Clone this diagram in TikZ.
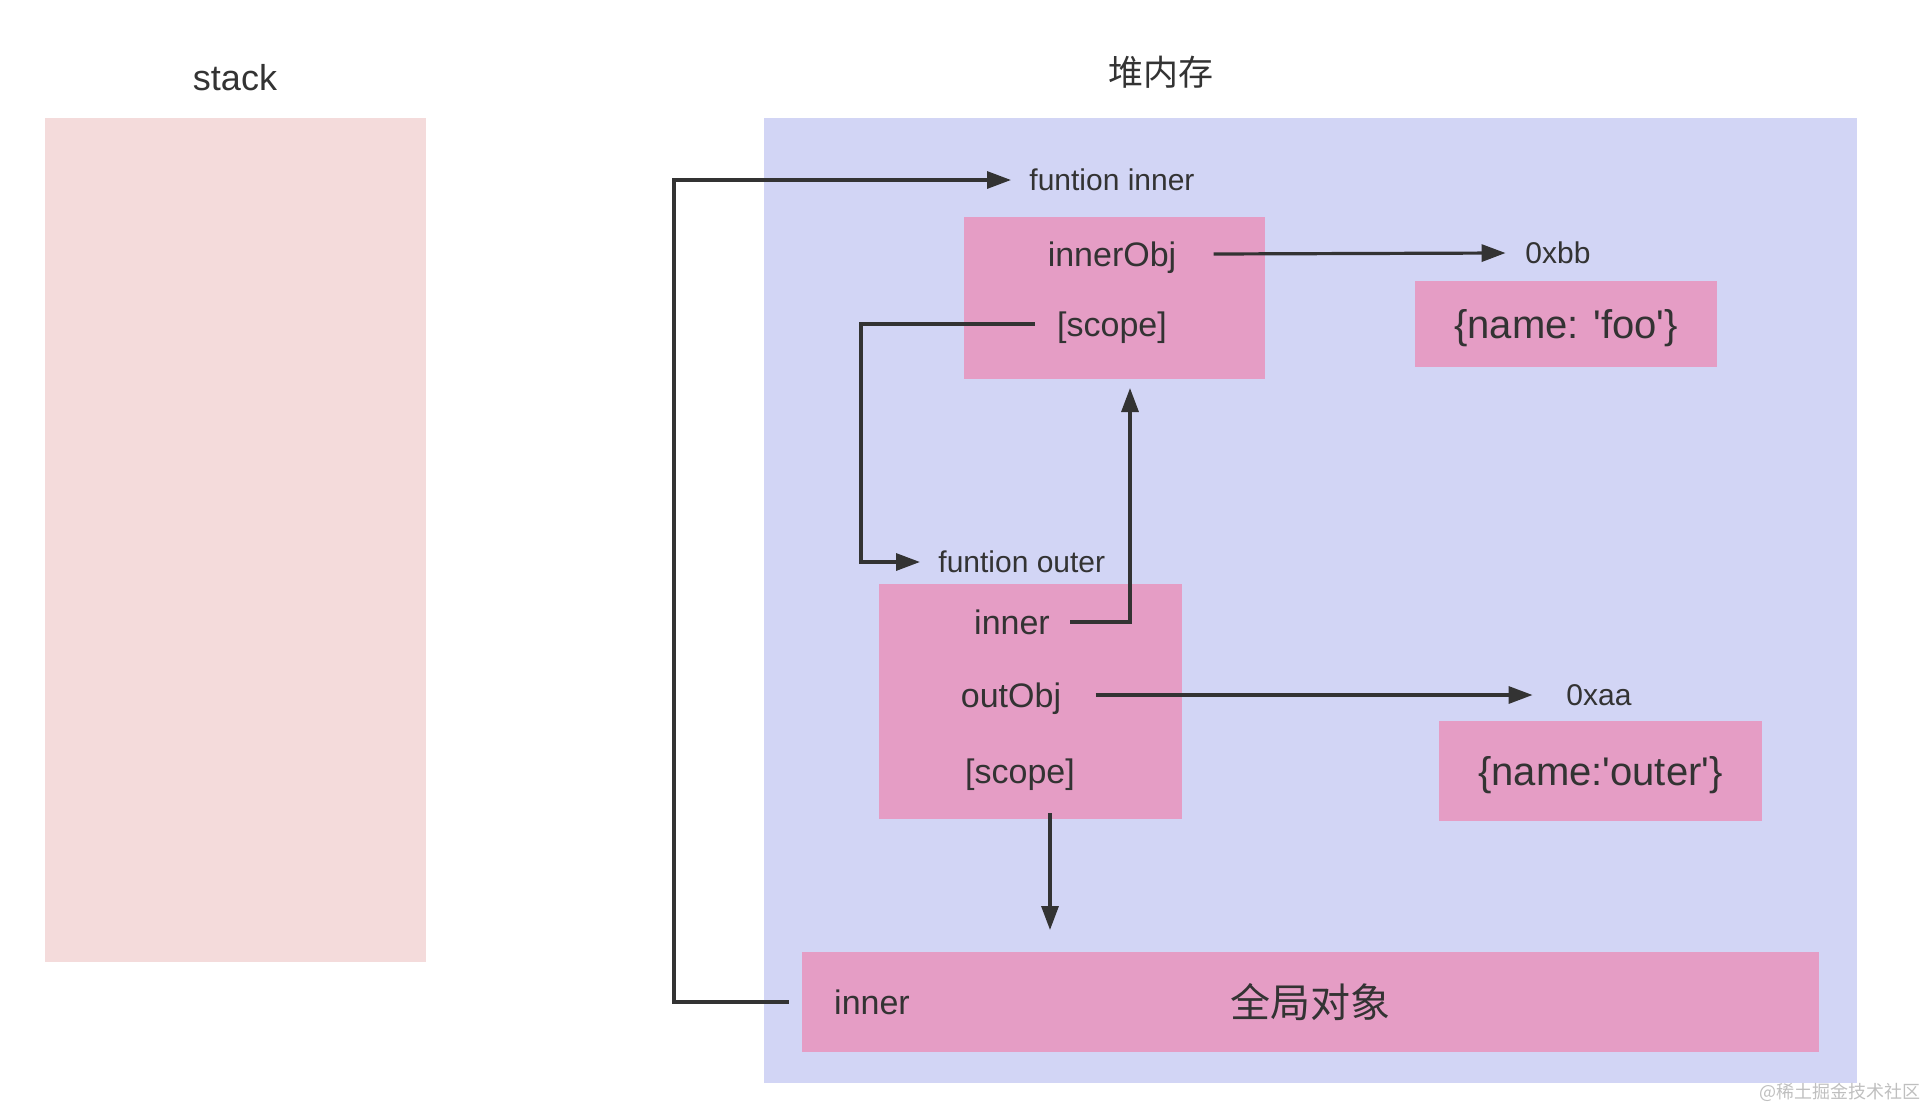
\documentclass[tikz,border=0pt]{standalone}
\usepackage{fontspec}
\setmainfont{Liberation Sans}
\newfontfamily\cjk{Noto Sans CJK SC}
\usetikzlibrary{arrows.meta,positioning}
\definecolor{stackpink}{HTML}{F4DBDB}
\definecolor{heapblue}{HTML}{D2D5F5}
\definecolor{boxpink}{HTML}{E59DC5}
\definecolor{ink}{HTML}{333333}

\begin{document}
\begin{tikzpicture}
[x = 0.5pt, y = -0.5pt, >={Triangle[length=12pt,width=8.5pt]},
 area/.style = {inner sep = 0pt, outer sep = 0pt},
 membox/.style = {area, fill = boxpink, text = ink},
 lbl/.style = {inner sep = 0pt, text depth = 0pt, text = ink, font = \fontsize{17}{20}\selectfont},
 addr/.style = {lbl, font = \fontsize{15}{18}\selectfont},
 link/.style = {draw = ink, line width = 1.6pt, ->}]
\useasboundingbox (0,0) rectangle (1926,1108);
\node (stack) at (235.5,540)[area, fill = stackpink, minimum width = 190.5pt, minimum height = 422pt] {};
\node (heap) at (1310.5,600.5)[area, fill = heapblue, minimum width = 546.5pt, minimum height = 482.5pt] {};
\node (stacktitle) at (235,77)[lbl, font = \fontsize{18}{22}\selectfont] {stack};
\node (heaptitle) at (1161,71)[lbl, font = \cjk\fontsize{17.5}{21}\selectfont] {堆内存};
\node (innerbox) at (1114.5,298)[membox, minimum width = 150.5pt, minimum height = 81pt] {};
\node (foobox) at (1566,324)[membox, text depth = 0pt, minimum width = 151pt, minimum height = 43pt, font = \fontsize{20}{24}\selectfont] {\{name: \textquotesingle foo\textquotesingle\}};
\node (outerbox) at (1030.5,701.5)[membox, minimum width = 151.5pt, minimum height = 117.5pt] {};
\node (outervalbox) at (1600.5,771)[membox, text depth = 0pt, minimum width = 161.5pt, minimum height = 50pt, font = \fontsize{20}{24}\selectfont] {\{name:\textquotesingle outer\textquotesingle\}};
\node (globalbox) at (1310.5,1002)[membox, minimum width = 508.5pt, minimum height = 50pt, font = \cjk\fontsize{20}{24}\selectfont] {全局对象};
\node (fninner) at (1029,180)[addr, anchor = west] {funtion inner};
\node (innerobj) at (1112,254)[lbl] {innerObj};
\node (innerscope) at (1112,324)[lbl] {[scope]};
\node (hexbb) at (1558,253)[addr] {0xbb};
\node (fnouter) at (938,562)[addr, anchor = west] {funtion outer};
\node (innerref) at (1012,622)[lbl] {inner};
\node (outobj) at (1011,695)[lbl] {outObj};
\node (outscope) at (1020,771)[lbl] {[scope]};
\node (hexaa) at (1599,695)[addr] {0xaa};
\node (globalinner) at (872,1002)[lbl] {inner};
\node (mark) at (1840,1092)[inner sep = 0pt, text = black!25, font = \cjk\fontsize{9}{11}\selectfont] {@稀土掘金技术社区};
\draw [link] ([xshift=-22.5pt]globalinner.west) -| (674,180) -- ([xshift=-9pt]fninner.west);
\draw [link] ([xshift=-11pt]innerscope.west) -| (861,562) -- ([xshift=-9pt]fnouter.west);
\draw [link] ([xshift=10pt]innerref.east) -| ([xshift=7.75pt,yshift=-4.5pt]innerbox.south);
\draw [link] ([xshift=18.5pt]innerobj.east) -- ([xshift=-9.75pt]hexbb.west);
\draw [link] ([xshift=17pt]outobj.east) -- ([xshift=-16.75pt]hexaa.west);
\draw [link] ([xshift=9.75pt,yshift=3pt]outerbox.south) -- ++(0,117);
\end{tikzpicture}
\end{document}
